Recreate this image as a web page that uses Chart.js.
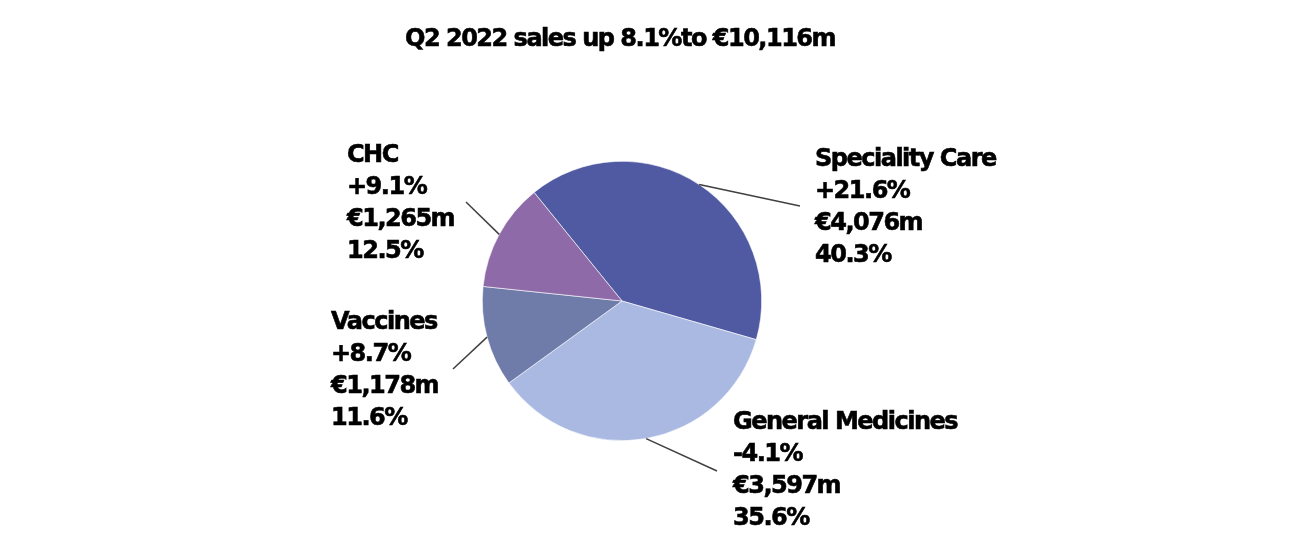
<!DOCTYPE html>
<html>
<head>
<meta charset="utf-8">
<script src="https://cdn.jsdelivr.net/npm/chart.js@4"></script>
<style>
  html, body { margin: 0; padding: 0; background: #fff; }
  #wrap { width: 1308px; height: 540px; }
</style>
</head>
<body>
<div id="wrap"><canvas id="salesPie" width="1308" height="540"></canvas></div>
<script>
// Q2 2022 sales by business
const titleText = 'Q2 2022 sales up 8.1%to €10,116m';
const categories = ['Speciality Care', 'General Medicines', 'Vaccines', 'CHC'];
const sales = [4076, 3597, 1178, 1265];          // €m
const growth = ['+21.6%', '-4.1%', '+8.7%', '+9.1%'];
const shares = ['40.3%', '35.6%', '11.6%', '12.5%'];
const sliceColors = ['#4f5aa2', '#aab9e2', '#6f7ca9', '#8e6ba8'];

// where each label block sits and where its leader line ends
const labelPos = [
  { x: 815, y: 160, lx: 800, ly: 206 },
  { x: 733, y: 423, lx: 717, ly: 471 },
  { x: 331, y: 323, lx: 453, ly: 369 },
  { x: 347, y: 156, lx: 466, ly: 202 }
];

const fontFamily = '"DejaVu Sans", Verdana, sans-serif';

// heavy bold text, a thin stroke makes it closer to Verdana Bold
function boldText(ctx, t, x, y) {
  ctx.fillText(t, x, y);
  ctx.strokeText(t, x, y);
}

const labelPlugin = {
  id: 'pieLabels',
  afterDraw(chart) {
    const ctx = chart.ctx;
    const meta = chart.getDatasetMeta(0);
    ctx.save();

    ctx.font = 'bold 24px ' + fontFamily;
    ctx.letterSpacing = '-1.5px';
    ctx.textAlign = 'left';
    ctx.textBaseline = 'middle';

    // title
    ctx.fillStyle = '#000';
    ctx.strokeStyle = '#000';
    ctx.lineWidth = 0.6;
    boldText(ctx, titleText, 405, 40);

    meta.data.forEach((arc, i) => {
      const p = arc.getProps(['x', 'y', 'startAngle', 'endAngle', 'outerRadius'], true);
      const mid = (p.startAngle + p.endAngle) / 2;
      const sx = p.x + Math.cos(mid) * p.outerRadius;
      const sy = p.y + Math.sin(mid) * p.outerRadius;
      const pos = labelPos[i];

      ctx.strokeStyle = '#404040';
      ctx.lineWidth = 1.5;
      ctx.beginPath();
      ctx.moveTo(sx, sy);
      ctx.lineTo(pos.lx, pos.ly);
      ctx.stroke();

      const lines = [categories[i], growth[i], '€' + sales[i].toLocaleString('en-US') + 'm', shares[i]];
      ctx.fillStyle = '#000';
      ctx.strokeStyle = '#000';
      ctx.lineWidth = 0.6;
      lines.forEach((t, j) => {
        boldText(ctx, t, pos.x, pos.y + j * 32);
      });
    });
    ctx.restore();
  }
};

const pieCanvas = document.getElementById('salesPie');
new Chart(pieCanvas, {
  type: 'pie',
  data: {
    labels: categories,
    datasets: [{
      data: sales,
      backgroundColor: sliceColors,
      borderColor: '#ffffff',
      borderWidth: 0.6
    }]
  },
  options: {
    responsive: false,
    animation: false,
    rotation: -39,
    layout: {
      padding: { left: 482, right: 546, top: 161, bottom: 99 }
    },
    plugins: {
      legend: { display: false },
      tooltip: { enabled: false },
      title: { display: false }
    }
  },
  plugins: [labelPlugin]
});
</script>
</body>
</html>
